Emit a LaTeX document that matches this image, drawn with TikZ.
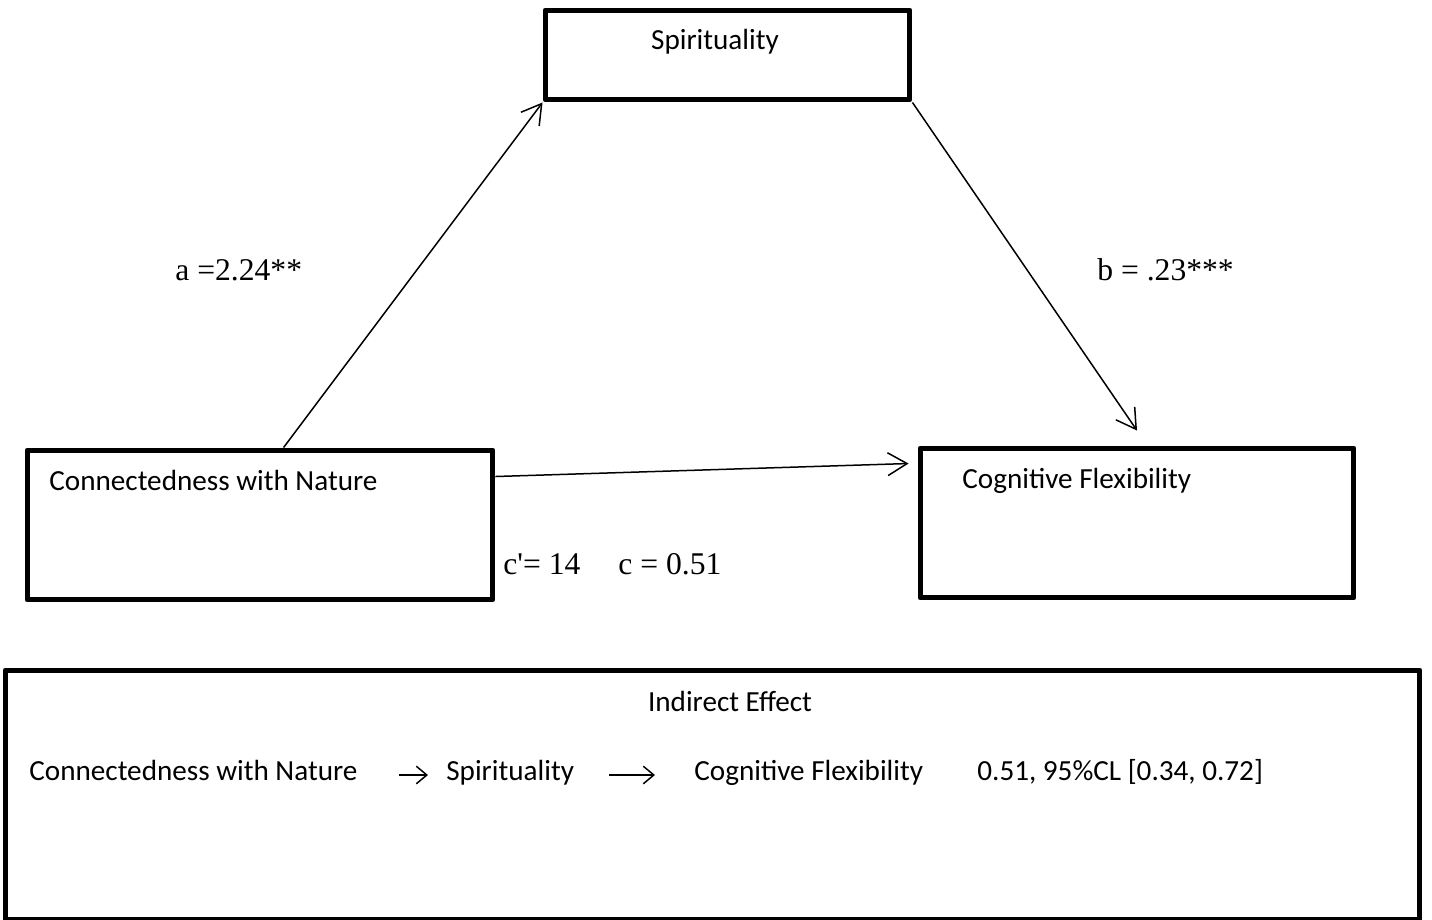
\documentclass[tikz,border=0pt]{standalone}
\usepackage{fontspec}
\setmainfont{Carlito}
\newfontfamily\timesfont{Liberation Serif}
\usepackage{tikz}
\usetikzlibrary{positioning,calc,arrows.meta}

\begin{document}
\begin{tikzpicture}[x=0.02cm, y=-0.02cm,
    caja/.style={rectangle, draw, line width=0.1cm, line join=round, inner sep=0},
    flecha/.style={line width=0.03cm, -{Straight Barb[length=11pt,width=13pt]}},
    flechita/.style={line width=0.03cm, -{Straight Barb[length=6pt,width=10pt]}},
    txt/.style={inner sep=0, font=\fontsize{16.6}{18}\selectfont},
    coef/.style={inner sep=0, font=\timesfont\fontsize{18}{20}\selectfont}]
    \useasboundingbox (0,0) rectangle (1432,919);

    % Cajas del modelo
    \node[caja, minimum width=7.3cm, minimum height=1.8cm] (M) at (727.5,55) {};
    \node[caja, minimum width=9.32cm, minimum height=3cm] (X) at (260,525) {};
    \node[caja, minimum width=8.68cm, minimum height=3cm] (Y) at (1137,523) {};
    \node[caja, minimum width=28.3cm, minimum height=5cm] (I) at (712.5,795) {};

    % Textos de las cajas
    \node[txt, anchor=base] (Mt) at (715,50) {Spirituality};
    \node[txt, anchor=base west] (Xt) at (49,490) {Connectedness with Nature};
    \node[txt, anchor=base west] (Yt) at (962,488) {Cognitive Flexibility};

    % Coeficientes
    \node[coef, anchor=base west] (a) at (175,280) {a =2.24**};
    \node[coef, anchor=base west] (b) at (1097,280) {b = .23***};
    \node[coef, anchor=base west] (c) at (503,574) {c'= 14\hspace{1.2em}c = 0.51};

    % Efecto indirecto
    \node[txt, anchor=base] (It) at (730,711) {Indirect Effect};
    \node[txt, anchor=base west] (R1) at (29,780) {Connectedness with Nature};
    \node[txt, anchor=base west] (R2) at (446,780) {Spirituality};
    \node[txt, anchor=base west] (R3) at (694,780) {Cognitive Flexibility};
    \node[txt, anchor=base west] (R4) at (977,780) {0.51, 95\%CL [0.34, 0.72]};

    % Caminos
    \draw[flecha] ($(X.north west)!0.55!(X.north east)$) -- (M.south west);
    \draw[flecha] (M.south east) -- ($(Y.north)+(0,-15)$);
    \draw[flecha] ($(X.north east)+(0,29)$) -- ($(Y.north west)+(-9,18)$);
    \draw[flechita] ($(R1.base east)+(41,-5)$) -- ($(R2.base west)+(-18,-5)$);
    \draw[flechita] ($(R2.base east)+(35,-5)$) -- ($(R3.base west)+(-39,-5)$);
\end{tikzpicture}
\end{document}
